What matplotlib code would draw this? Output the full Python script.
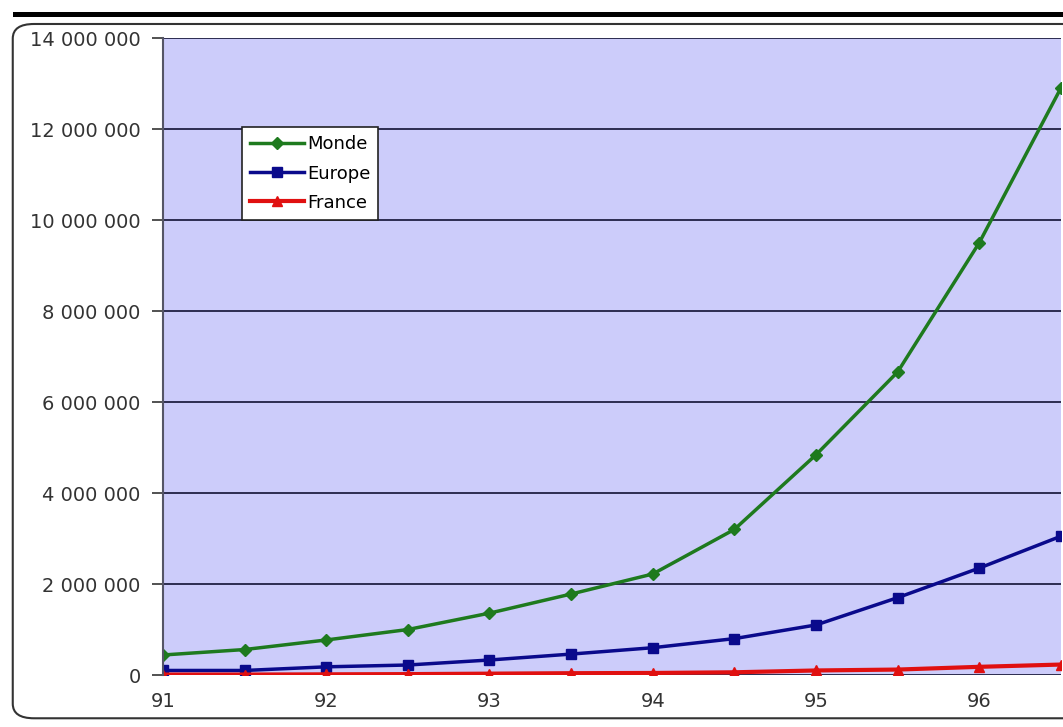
import matplotlib.pyplot as plt
from matplotlib.patches import FancyBboxPatch, Rectangle
from matplotlib.ticker import FuncFormatter

# half-year points, 1991 -> mid 1996
annees = [91, 91.5, 92, 92.5, 93, 93.5, 94, 94.5, 95, 95.5, 96, 96.5]
monde = [440000, 560000, 770000, 1000000, 1360000, 1780000, 2220000,
         3200000, 4840000, 6660000, 9500000, 12900000]
europe = [100000, 100000, 180000, 220000, 330000, 460000, 600000,
          800000, 1100000, 1700000, 2350000, 3050000]
france = [10000, 10000, 15000, 20000, 30000, 40000, 45000,
          60000, 100000, 120000, 180000, 230000]
xticks = [91, 92, 93, 94, 95, 96]
yticks = list(range(0, 14000001, 2000000))

fig = plt.figure(figsize=(10.63, 7.27), dpi=100)
fig.patch.set_facecolor('white')

# frame around the chart
fig.patches.append(Rectangle((0.012, 0.976), 0.99, 0.007, transform=fig.transFigure,
                             facecolor='black', edgecolor='none'))
fig.patches.append(FancyBboxPatch((0.012, 0.012), 1.05, 0.955,
                                  boxstyle='round,pad=0,rounding_size=0.02',
                                  transform=fig.transFigure, facecolor='none',
                                  edgecolor='#333333', linewidth=1.5))

ax = fig.add_axes([0.1533, 0.0715, 0.8447, 0.8762])
ax.set_facecolor('#CCCCFA')

ax.plot(annees, monde, color='#1E7A1E', lw=2.5, marker='D', ms=6, label='Monde')
ax.plot(annees, europe, color='#0A0A8C', lw=2.5, marker='s', ms=7, label='Europe')
ax.plot(annees, france, color='#E01010', lw=3, marker='^', ms=7, label='France')

ax.set_xlim(91, 96.5)
ax.set_ylim(0, 14000000)
ax.set_xticks(xticks)
ax.set_xticklabels([str(x) for x in xticks])
ax.set_yticks(yticks)
ax.yaxis.set_major_formatter(FuncFormatter(lambda v, p: f'{int(v):,}'.replace(',', ' ')))
ax.grid(axis='y', color='#111133', lw=1.2)
ax.set_axisbelow(True)

for s in ['top', 'right', 'bottom']:
    ax.spines[s].set_visible(False)
ax.spines['left'].set_color('#555566')
ax.spines['left'].set_linewidth(1.5)
ax.tick_params(axis='y', direction='out', length=8, width=1.2, color='#333333',
               labelsize=14, labelcolor='#333333', pad=8)
ax.tick_params(axis='x', length=0, labelsize=14, labelcolor='#333333', pad=12)

leg = ax.legend(loc='upper left', bbox_to_anchor=(0.088, 0.86), fontsize=13,
                frameon=True, fancybox=False, handlelength=3.0, borderpad=0.45,
                labelspacing=0.62, handletextpad=0.15, borderaxespad=0)
leg.get_frame().set_edgecolor('#222222')
leg.get_frame().set_facecolor('white')
leg.get_frame().set_alpha(1)
leg.get_frame().set_linewidth(1.2)

fig.savefig('out.png', dpi=100)
